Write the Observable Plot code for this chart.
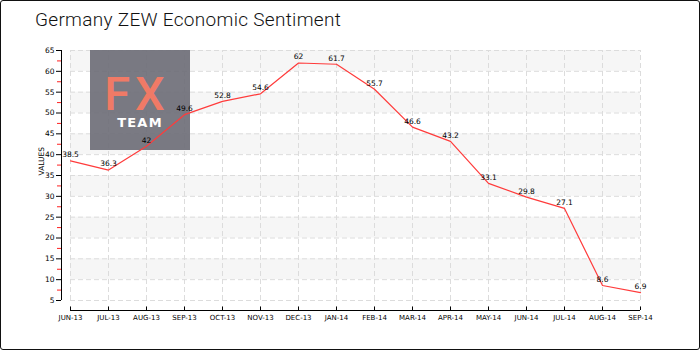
<!DOCTYPE html>
<html>
<head>
<meta charset="utf-8">
<script src="https://cdn.jsdelivr.net/npm/d3@7"></script>
<script src="https://cdn.jsdelivr.net/npm/@observablehq/plot@0.6"></script>
<style>
  html, body { margin: 0; padding: 0; background: #fff; }
  #wrap { position: relative; width: 700px; height: 350px; overflow: hidden; background: #fff; }
  #title { position: absolute; left: 35px; top: 8px; font-family: Roboto, sans-serif; font-size: 19px; font-weight: 300; color: #111; white-space: nowrap; letter-spacing: 0.3px; }
  #chart { position: absolute; left: 0; top: 40px; }
  #border { position: absolute; left: 0; top: 0; width: 698px; height: 348px; border: 1px solid #111; border-radius: 3px; pointer-events: none; }
</style>
</head>
<body>
<div id="wrap">
  <div id="title">Germany ZEW Economic Sentiment</div>
  <div id="chart"></div>
  <div id="border"></div>
</div>
<script>
const months = ["JUN-13","JUL-13","AUG-13","SEP-13","OCT-13","NOV-13","DEC-13","JAN-14","FEB-14","MAR-14","APR-14","MAY-14","JUN-14","JUL-14","AUG-14","SEP-14"];
const values = [38.5,36.3,42,49.6,52.8,54.6,62,61.7,55.7,46.6,43.2,33.1,29.8,27.1,8.6,6.9];
const valueLabels = ["38.5","36.3","42","49.6","52.8","54.6","62","61.7","55.7","46.6","43.2","33.1","29.8","27.1","8.6","6.9"];
const yTicks = [5,10,15,20,25,30,35,40,45,50,55,60,65];
const yMinorTicks = [7.5,12.5,17.5,22.5,27.5,32.5,37.5,42.5,47.5,52.5,57.5,62.5];
const bandLows = [10,20,30,40,50,60];
const yAxisTitle = "VALUES";

const data = months.map((m, i) => ({i, month: m, value: values[i], label: valueLabels[i]}));
const last = months.length - 1;
const xAxisPos = -9 / 38;      // y axis line sits slightly left of the first month
const yMin = 2.6;              // x axis line sits slightly below the 5 level
const yLo = yTicks[0], yHi = yTicks[yTicks.length - 1];
const gridStroke = "#dcdcdc";
const font = "DejaVu Sans, sans-serif";

function logo(index, scales, values, dimensions) {
  const g = d3.create("svg:g");
  g.append("rect").attr("x", 90).attr("y", 10).attr("width", 100).attr("height", 100)
    .attr("fill", "#6c6b75").attr("fill-opacity", 0.9);
  g.append("text").attr("x", 137).attr("y", 70).attr("text-anchor", "middle")
    .attr("font-family", "Roboto, sans-serif").attr("font-weight", 500).attr("font-size", 47)
    .attr("letter-spacing", 5).attr("fill", "#f07a66").text("FX");
  g.append("text").attr("x", 140).attr("y", 87).attr("text-anchor", "middle")
    .attr("font-family", "DejaVu Sans, sans-serif").attr("font-weight", "bold").attr("font-size", 13)
    .attr("letter-spacing", 1.2).attr("fill", "#ffffff").text("TEAM");
  return g.node();
}

const chart = Plot.plot({
  width: 700,
  height: 310,
  marginLeft: 61,
  marginRight: 60,
  marginTop: 10,
  marginBottom: 40,
  style: {fontFamily: font, fontSize: "7px", color: "#000", background: "transparent"},
  x: {type: "linear", domain: [xAxisPos, last], label: null},
  y: {type: "linear", domain: [yMin, yHi], label: null},
  marks: [
    Plot.rect(bandLows, {x1: 0, x2: last, y1: d => d, y2: d => d + 5, fill: "#f6f6f6"}),
    Plot.ruleY(yTicks, {x1: 0, x2: last, stroke: gridStroke, strokeDasharray: "5,3"}),
    Plot.ruleX(data, {x: "i", y1: yLo, y2: yHi, stroke: gridStroke, strokeDasharray: "5,3"}),
    logo,
    Plot.ruleX([xAxisPos], {y1: yLo, y2: yHi, stroke: "#000"}),
    Plot.ruleY([yMin], {x1: 0, x2: last, stroke: "#000"}),
    Plot.ruleX(data, {x: "i", y1: yMin, y2: yMin + 0.85, stroke: "#000"}),
    Plot.axisY(yTicks, {anchor: "left", label: null, tickSize: 5, tickPadding: 2, fontSize: 7.5, fill: "#000", stroke: "#000"}),
    Plot.axisY(yMinorTicks, {anchor: "left", label: null, tickSize: 4, tickFormat: () => "", stroke: "#ff2020"}),
    Plot.axisX(data.map(d => d.i), {anchor: "bottom", label: null, tickSize: 0, tickPadding: 5, tickFormat: i => months[i], fontSize: 7, fill: "#000"}),
    Plot.line(data, {x: "i", y: "value", stroke: "#ff3b3b", strokeWidth: 1.2}),
    Plot.text(data, {x: "i", y: "value", text: "label", dy: -6, fontSize: 7.5, fill: "#000"}),
    Plot.text([yAxisTitle], {frameAnchor: "left", text: d => d, rotate: -90, dx: -20, dy: -5, fontSize: 7.5, fill: "#000"})
  ]
});
document.getElementById("chart").appendChild(chart);
</script>
</body>
</html>
